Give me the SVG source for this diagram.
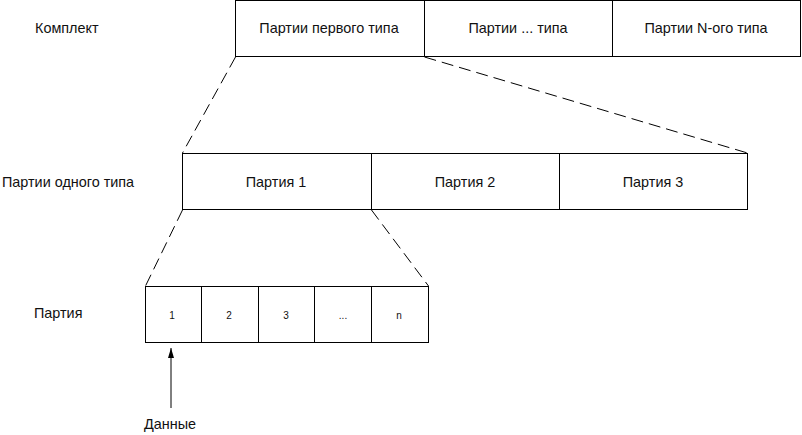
<svg xmlns="http://www.w3.org/2000/svg" width="802" height="435" viewBox="0 0 802 435">
<style>
.box{fill:#fff;stroke:#000;stroke-width:1}
.t{font-family:"Liberation Sans",Arial,sans-serif;font-size:14.4px;fill:#111}
.c{text-anchor:middle}
.s{font-family:"Liberation Sans",Arial,sans-serif;font-size:10px;fill:#111;text-anchor:middle}
.d{stroke:#000;stroke-width:1;fill:none;stroke-dasharray:12,6}
</style>
<defs>
<marker id="ah" viewBox="0 0 10 6" refX="10" refY="3" markerWidth="10" markerHeight="6" markerUnits="userSpaceOnUse" orient="auto">
<path d="M0,0 L10,3 L0,6 z" fill="#000"/>
</marker>
</defs>
<rect width="802" height="435" fill="#fff"/>
<g id="labels">
<text class="t" x="35" y="33">Комплект</text>
<text class="t" x="2" y="187">Партии одного типа</text>
<text class="t" x="34" y="318">Партия</text>
<text class="t" x="144" y="429">Данные</text>
</g>
<g id="komplekt">
<rect class="box" x="235.5" y="0.5" width="189" height="56"/>
<rect class="box" x="424.5" y="0.5" width="188" height="56"/>
<rect class="box" x="612.5" y="0.5" width="188" height="56"/>
<text class="t c" x="329" y="33">Партии первого типа</text>
<text class="t c" x="518" y="33">Партии ... типа</text>
<text class="t c" x="706" y="33">Партии N-ого типа</text>
</g>
<g id="partii">
<rect class="box" x="182.5" y="153.5" width="189" height="56"/>
<rect class="box" x="371.5" y="153.5" width="188" height="56"/>
<rect class="box" x="559.5" y="153.5" width="188" height="56"/>
<text class="t c" x="276" y="187">Партия 1</text>
<text class="t c" x="465" y="187">Партия 2</text>
<text class="t c" x="653" y="187">Партия 3</text>
</g>
<g id="partiya">
<rect class="box" x="145.5" y="286.5" width="56" height="56"/>
<rect class="box" x="201.5" y="286.5" width="57" height="56"/>
<rect class="box" x="258.5" y="286.5" width="56" height="56"/>
<rect class="box" x="314.5" y="286.5" width="57" height="56"/>
<rect class="box" x="371.5" y="286.5" width="57" height="56"/>
<text class="s" x="172" y="319">1</text>
<text class="s" x="229" y="319">2</text>
<text class="s" x="286" y="319">3</text>
<text class="s" x="343" y="319">...</text>
<text class="s" x="399" y="319">n</text>
</g>
<g id="connectors">
<line class="d" x1="235.5" y1="57" x2="182.5" y2="153"/>
<line class="d" x1="424.5" y1="57" x2="747.5" y2="153"/>
<line class="d" x1="182.5" y1="210" x2="145.5" y2="286"/>
<line class="d" x1="371.5" y1="210" x2="428.5" y2="286"/>
<line x1="171" y1="408" x2="171" y2="348" stroke="#000" stroke-width="1" marker-end="url(#ah)"/>
</g>
</svg>
